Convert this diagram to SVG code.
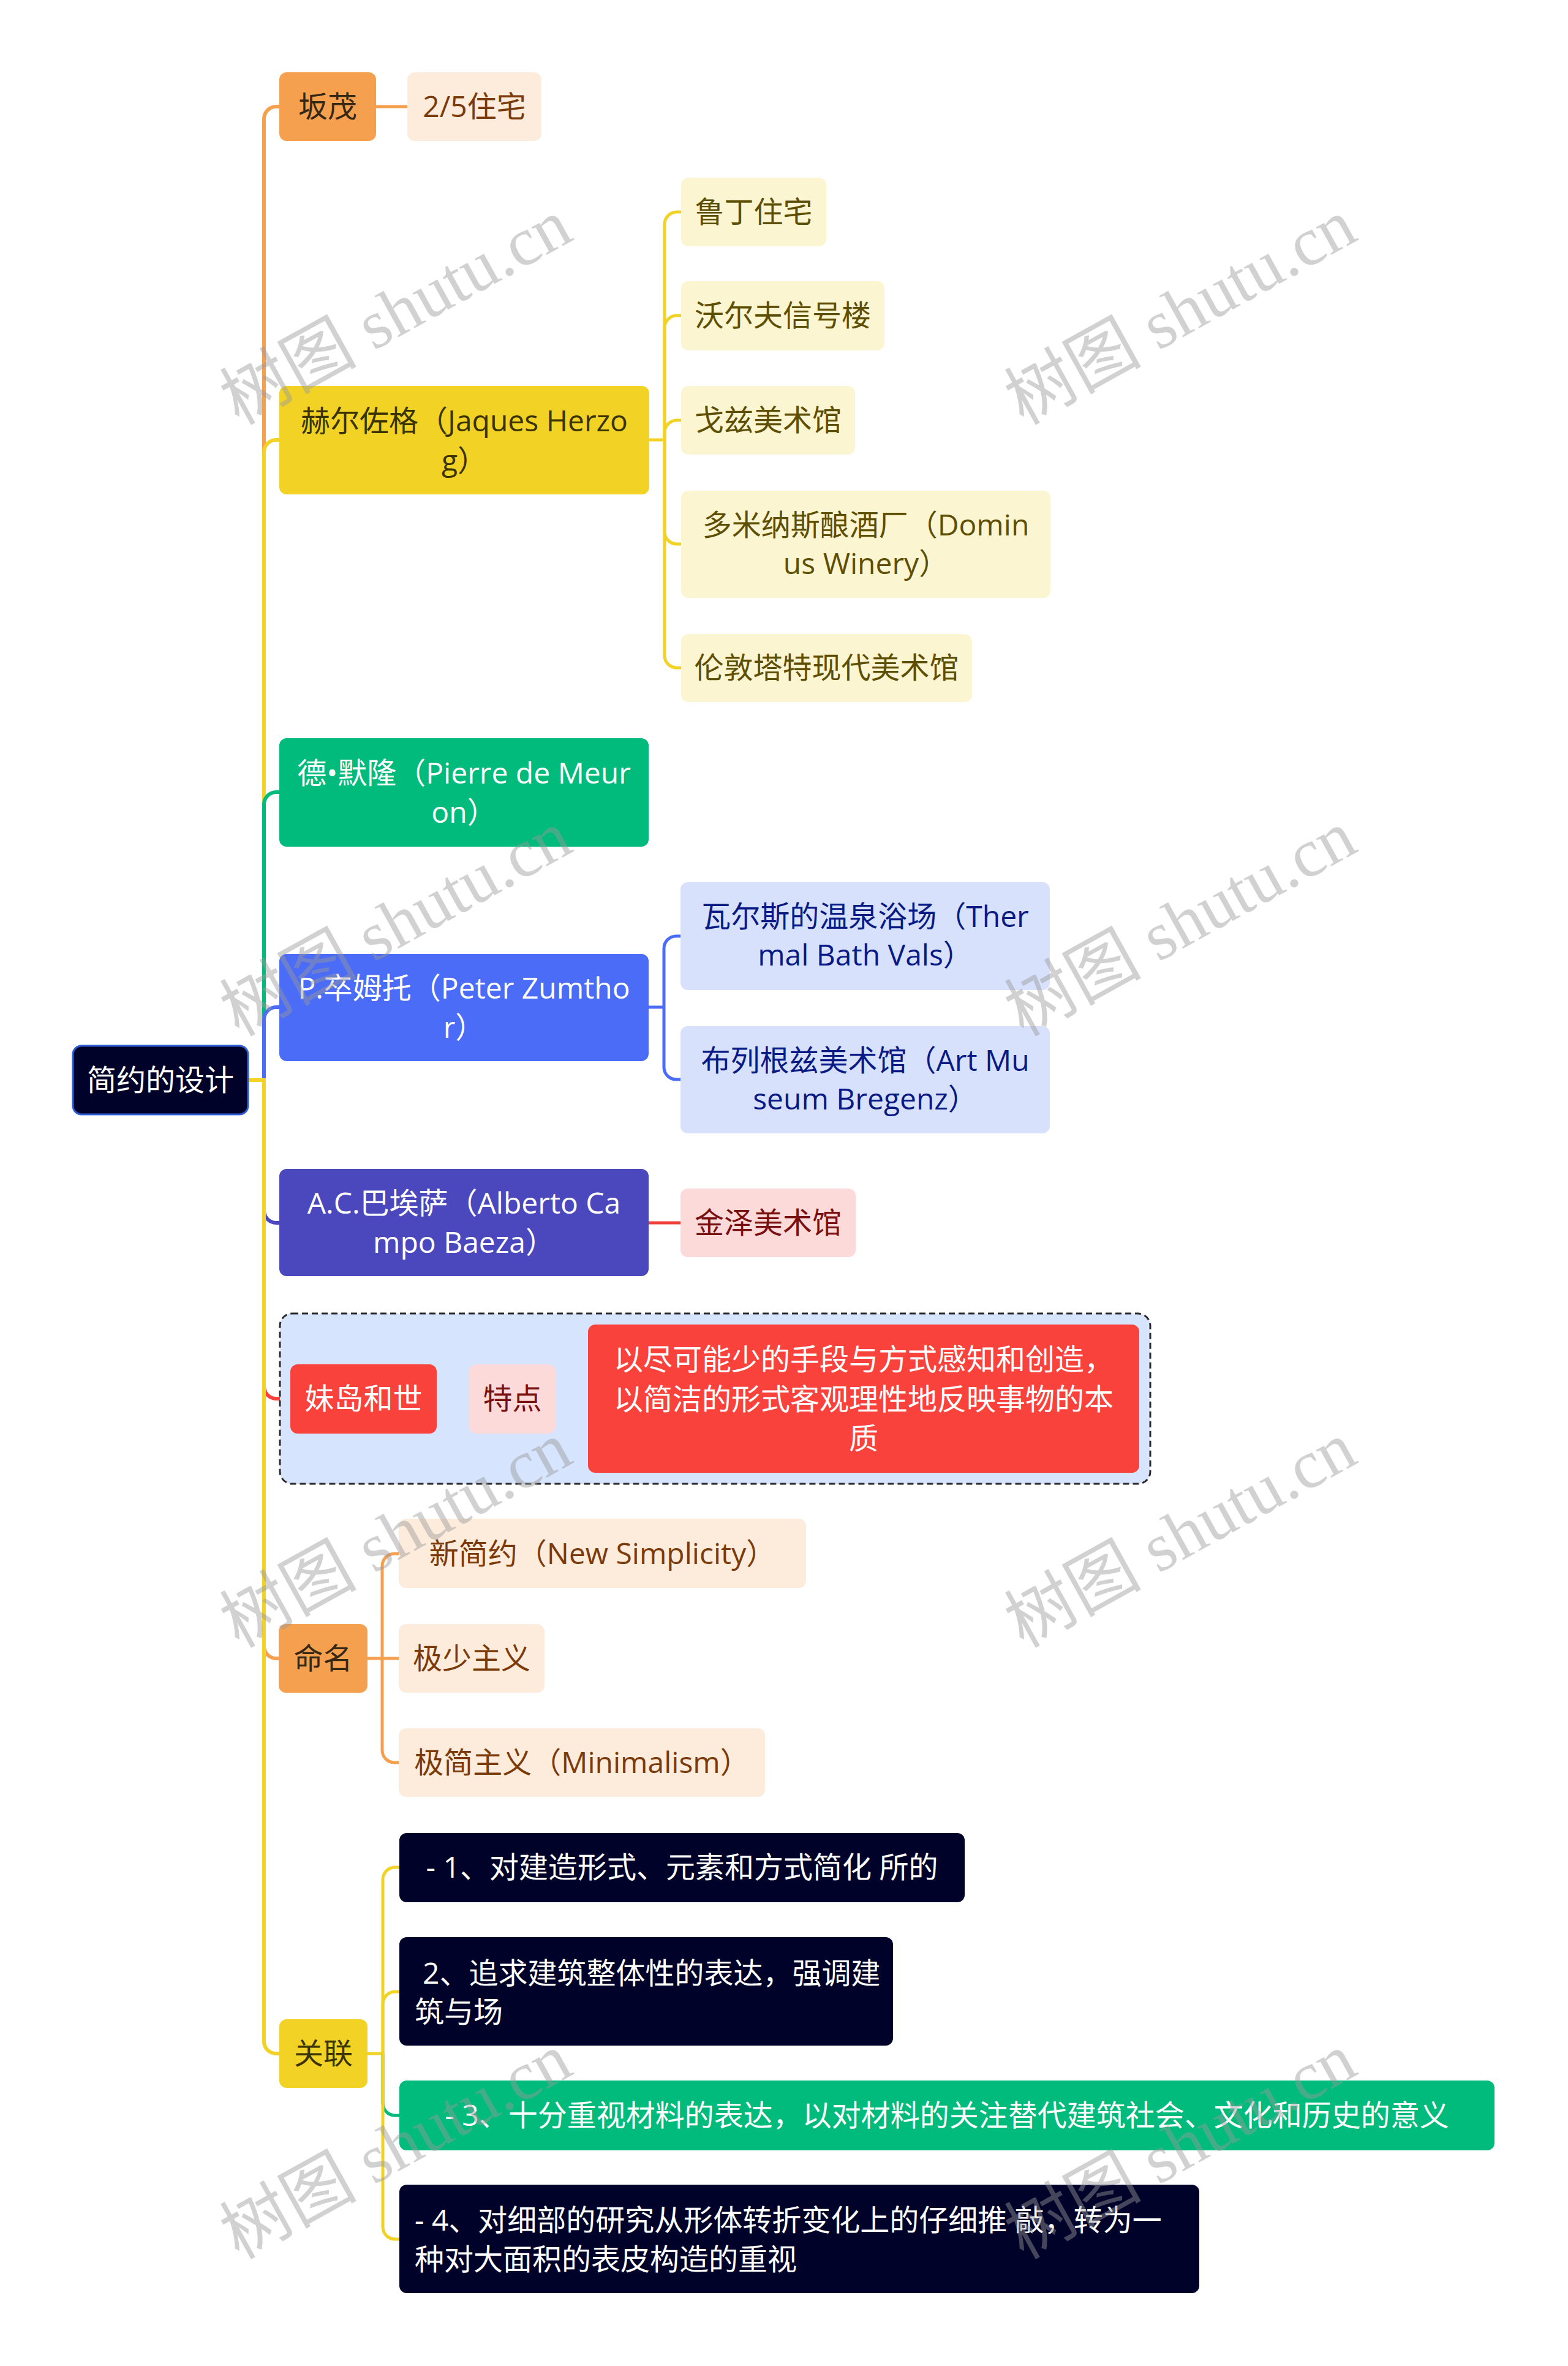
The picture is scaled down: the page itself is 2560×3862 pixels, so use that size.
<svg xmlns="http://www.w3.org/2000/svg" width="2560" height="3862" viewBox="0 0 2560 3862">
<style>
.t{font-family:"Open Sans","Noto Sans CJK SC",sans-serif;font-size:48px;}
.m{text-anchor:middle;}
.c{fill:none;stroke-linecap:butt;stroke-width:6;}
.s{fill:none;stroke-width:5;}
.wm{font-family:"Liberation Serif","Noto Sans CJK SC",serif;font-size:112px;fill:#9a9a9a;opacity:0.45;text-anchor:middle;}
</style>
<rect width="2560" height="3862" fill="#ffffff"/>

<g id="connectors">
  <path class="c" stroke="#F5A04E" d="M431,1763 V194 A20,20 0 0 1 451,174 H456"/>
  <path class="c" stroke="#F2D325" d="M431,1763 V738 A20,20 0 0 1 451,718 H456"/>
  <path class="c" stroke="#00BB7B" d="M431,1763 V1313 A20,20 0 0 1 451,1293 H456"/>
  <path class="c" stroke="#4A6CF6" d="M431,1763 V1664 A20,20 0 0 1 451,1644 H456"/>
  <path class="c" stroke="#4B48BE" d="M431,1763 V1976 A20,20 0 0 0 451,1996 H456"/>
  <path class="c" stroke="#F9423B" d="M431,1763 V2263 A20,20 0 0 0 451,2283 H474"/>
  <path class="c" stroke="#F5A04E" d="M431,1763 V2687 A20,20 0 0 0 451,2707 H455"/>
  <path class="c" stroke="#F2D325" d="M431,1763 V3332 A20,20 0 0 0 451,3352 H456"/>
  <path class="c" stroke="#F2D325" d="M405,1763 H434"/>

  <path class="s" stroke="#F5A04E" d="M614,174 H665"/>

  <path class="s" stroke="#F2D325" d="M1060,718 H1085"/>
  <path class="s" stroke="#F2D325" d="M1085,718 V366 A20,20 0 0 1 1105,346 H1112"/>
  <path class="s" stroke="#F2D325" d="M1085,718 V535 A20,20 0 0 1 1105,515 H1112"/>
  <path class="s" stroke="#F2D325" d="M1085,718 V706 A20,20 0 0 1 1105,686 H1112"/>
  <path class="s" stroke="#F2D325" d="M1085,718 V868 A20,20 0 0 0 1105,888 H1112"/>
  <path class="s" stroke="#F2D325" d="M1085,718 V1070 A20,20 0 0 0 1105,1090 H1112"/>

  <path class="s" stroke="#4A6CF6" d="M1059,1644 H1084"/>
  <path class="s" stroke="#4A6CF6" d="M1084,1644 V1548 A20,20 0 0 1 1104,1528 H1111"/>
  <path class="s" stroke="#4A6CF6" d="M1084,1644 V1742 A20,20 0 0 0 1104,1762 H1111"/>

  <path class="s" stroke="#F0403A" d="M1059,1996 H1111"/>

  <path class="s" stroke="#F9423B" d="M713,2283 H766"/>
  <path class="s" stroke="#F9423B" d="M907,2283 H960"/>

  <path class="s" stroke="#F5A04E" d="M600,2707 H651"/>
  <path class="s" stroke="#F5A04E" d="M624,2707 V2556 A20,20 0 0 1 644,2536 H651"/>
  <path class="s" stroke="#F5A04E" d="M624,2707 V2857 A20,20 0 0 0 644,2877 H651"/>

  <path class="s" stroke="#F2D325" d="M600,3352 H625"/>
  <path class="s" stroke="#F2D325" d="M625,3352 V3068 A20,20 0 0 1 645,3048 H652"/>
  <path class="s" stroke="#F2D325" d="M625,3352 V3271 A20,20 0 0 1 645,3251 H652"/>
  <path class="s" stroke="#00BB7B" d="M625,3352 V3433 A20,20 0 0 0 645,3453 H652"/>
  <path class="s" stroke="#F2D325" d="M625,3352 V3635 A20,20 0 0 0 645,3655 H652"/>
</g>

<g id="root">
  <rect x="119" y="1707" width="286" height="112" rx="14" fill="#000229" stroke="#2F5FD8" stroke-width="3"/>
  <text class="t m" x="262" y="1780" fill="#ffffff">简约的设计</text>
</g>

<g id="n-bianmao">
  <rect x="456" y="118" width="158" height="112" rx="12" fill="#F5A04E"/>
  <text class="t m" x="535" y="191" fill="#352815">坂茂</text>
</g>
<g id="n-25house">
  <rect x="665" y="118" width="219" height="112" rx="12" fill="#FDECDC"/>
  <text class="t m" x="774.5" y="191" fill="#7B3A07">2/5住宅</text>
</g>

<g id="n-herzog">
  <rect x="456" y="630" width="604" height="177" rx="12" fill="#F2D325"/>
  <text class="t m" fill="#3A3300"><tspan x="758" y="704">赫尔佐格（Jaques Herzo</tspan><tspan x="758" y="769">g）</tspan></text>
</g>
<g id="n-rudin">
  <rect x="1112" y="290" width="237" height="112" rx="12" fill="#FCF5D2"/>
  <text class="t m" x="1230.5" y="363" fill="#5E4F00">鲁丁住宅</text>
</g>
<g id="n-wolf">
  <rect x="1112" y="459" width="332" height="113" rx="12" fill="#FCF5D2"/>
  <text class="t m" x="1278" y="532" fill="#5E4F00">沃尔夫信号楼</text>
</g>
<g id="n-goetz">
  <rect x="1112" y="630" width="284" height="112" rx="12" fill="#FCF5D2"/>
  <text class="t m" x="1254" y="703" fill="#5E4F00">戈兹美术馆</text>
</g>
<g id="n-dominus">
  <rect x="1112" y="801" width="603" height="175" rx="12" fill="#FCF5D2"/>
  <text class="t m" fill="#5E4F00"><tspan x="1413.5" y="874">多米纳斯酿酒厂（Domin</tspan><tspan x="1413.5" y="937">us Winery）</tspan></text>
</g>
<g id="n-tate">
  <rect x="1112" y="1035" width="475" height="111" rx="12" fill="#FCF5D2"/>
  <text class="t m" x="1349.5" y="1107" fill="#5E4F00">伦敦塔特现代美术馆</text>
</g>

<g id="n-meuron">
  <rect x="456" y="1205" width="603" height="177" rx="12" fill="#00BB7B"/>
  <text class="t m" fill="#ffffff"><tspan x="757.5" y="1279">德•默隆（Pierre de Meur</tspan><tspan x="757.5" y="1343">on）</tspan></text>
</g>

<g id="n-zumthor">
  <rect x="456" y="1557" width="603" height="175" rx="12" fill="#4A6CF6"/>
  <text class="t m" fill="#ffffff"><tspan x="757.5" y="1630">P.卒姆托（Peter Zumtho</tspan><tspan x="757.5" y="1694">r）</tspan></text>
</g>
<g id="n-vals">
  <rect x="1111" y="1440" width="603" height="176" rx="12" fill="#D8E1FC"/>
  <text class="t m" fill="#0A1A85"><tspan x="1412.5" y="1513">瓦尔斯的温泉浴场（Ther</tspan><tspan x="1412.5" y="1576">mal Bath Vals）</tspan></text>
</g>
<g id="n-bregenz">
  <rect x="1111" y="1675" width="603" height="175" rx="12" fill="#D8E1FC"/>
  <text class="t m" fill="#0A1A85"><tspan x="1412.5" y="1748">布列根兹美术馆（Art Mu</tspan><tspan x="1412.5" y="1811">seum Bregenz）</tspan></text>
</g>

<g id="n-baeza">
  <rect x="456" y="1908" width="603" height="175" rx="12" fill="#4B48BE"/>
  <text class="t m" fill="#ffffff"><tspan x="757.5" y="1981">A.C.巴埃萨（Alberto Ca</tspan><tspan x="757.5" y="2045">mpo Baeza）</tspan></text>
</g>
<g id="n-kanazawa">
  <rect x="1111" y="1940" width="286" height="112" rx="12" fill="#FDDADA"/>
  <text class="t m" x="1254" y="2013" fill="#7A0F10">金泽美术馆</text>
</g>

<g id="n-sejima-group">
  <rect x="457" y="2144" width="1421" height="278" rx="20" fill="#D6E4FD" stroke="#2A2A2A" stroke-width="3" stroke-dasharray="10 6"/>
</g>
<g id="n-sejima">
  <rect x="474" y="2227" width="239" height="113" rx="12" fill="#F9423B"/>
  <text class="t m" x="593.5" y="2300" fill="#ffffff">妹岛和世</text>
</g>
<g id="n-feature">
  <rect x="766" y="2227" width="141" height="113" rx="12" fill="#FDDADA"/>
  <text class="t m" x="836.5" y="2300" fill="#7A0F10">特点</text>
</g>
<g id="n-feature-text">
  <rect x="960" y="2162" width="900" height="242" rx="12" fill="#F9423B"/>
  <text class="t m" fill="#ffffff"><tspan x="1410" y="2236">以尽可能少的手段与方式感知和创造，</tspan><tspan x="1410" y="2301">以简洁的形式客观理性地反映事物的本</tspan><tspan x="1410" y="2365">质</tspan></text>
</g>

<g id="n-naming">
  <rect x="455" y="2651" width="145" height="112" rx="12" fill="#F5A04E"/>
  <text class="t m" x="527.5" y="2724" fill="#352815">命名</text>
</g>
<g id="n-newsimp">
  <rect x="651" y="2479" width="665" height="113" rx="12" fill="#FDECDC"/>
  <text class="t m" x="983.5" y="2553" fill="#7B3A07">新简约（New Simplicity）</text>
</g>
<g id="n-minimal1">
  <rect x="651" y="2651" width="238" height="112" rx="12" fill="#FDECDC"/>
  <text class="t m" x="770" y="2724" fill="#7B3A07">极少主义</text>
</g>
<g id="n-minimal2">
  <rect x="651" y="2821" width="598" height="112" rx="12" fill="#FDECDC"/>
  <text class="t m" x="950" y="2894" fill="#7B3A07">极简主义（Minimalism）</text>
</g>

<g id="n-relation">
  <rect x="456" y="3296" width="144" height="112" rx="12" fill="#F2D325"/>
  <text class="t m" x="528" y="3369" fill="#3A3300">关联</text>
</g>
<g id="n-item1">
  <rect x="652" y="2992" width="923" height="113" rx="12" fill="#000229"/>
  <text class="t m" x="1113.5" y="3065" fill="#ffffff">- 1、对建造形式、元素和方式简化 所的</text>
</g>
<g id="n-item2">
  <rect x="652" y="3162" width="806" height="177" rx="12" fill="#000229"/>
  <text class="t" fill="#ffffff"><tspan x="690" y="3238">2、追求建筑整体性的表达，强调建</tspan><tspan x="677" y="3301">筑与场</tspan></text>
</g>
<g id="n-item3">
  <rect x="652" y="3396" width="1788" height="114" rx="12" fill="#00BB7B"/>
  <text class="t m" x="1546" y="3470" fill="#ffffff">- 3、十分重视材料的表达，以对材料的关注替代建筑社会、文化和历史的意义</text>
</g>
<g id="n-item4">
  <rect x="652" y="3566" width="1306" height="177" rx="12" fill="#000229"/>
  <text class="t" fill="#ffffff"><tspan x="677" y="3641">- 4、对细部的研究从形体转折变化上的仔细推 敲，转为一</tspan><tspan x="677" y="3705">种对大面积的表皮构造的重视</tspan></text>
</g>

<g id="watermarks">
  <text class="wm" x="647" y="547" transform="rotate(-29 647 511)">树图 shutu.cn</text>
  <text class="wm" x="1928" y="547" transform="rotate(-29 1928 511)">树图 shutu.cn</text>
  <text class="wm" x="647" y="1545" transform="rotate(-29 647 1509)">树图 shutu.cn</text>
  <text class="wm" x="1928" y="1545" transform="rotate(-29 1928 1509)">树图 shutu.cn</text>
  <text class="wm" x="647" y="2543" transform="rotate(-29 647 2507)">树图 shutu.cn</text>
  <text class="wm" x="1928" y="2543" transform="rotate(-29 1928 2507)">树图 shutu.cn</text>
  <text class="wm" x="647" y="3541" transform="rotate(-29 647 3505)">树图 shutu.cn</text>
  <text class="wm" x="1928" y="3541" transform="rotate(-29 1928 3505)">树图 shutu.cn</text>
</g>
</svg>
